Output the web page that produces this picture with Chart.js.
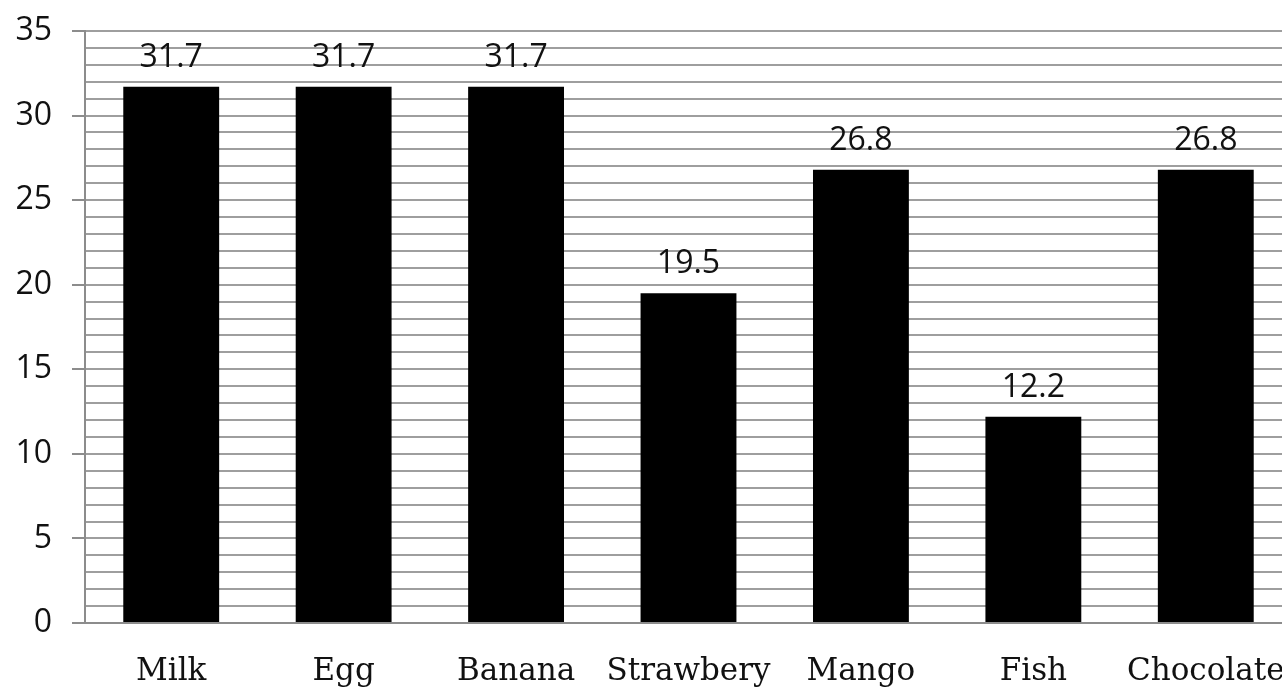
<!DOCTYPE html>
<html>
<head>
<meta charset="utf-8">
<script src="https://cdn.jsdelivr.net/npm/chart.js@4/dist/chart.umd.min.js"></script>
<style>
  html, body { margin: 0; padding: 0; background: #fff; overflow: hidden; }
  #wrap { position: relative; width: 1292px; height: 687px; }
</style>
</head>
<body>
<div id="wrap"><canvas id="chart" width="1292" height="687"></canvas></div>
<script>
// Values per food item
const categories = ['Milk', 'Egg', 'Banana', 'Strawbery', 'Mango', 'Fish', 'Chocolate'];
const values = [31.7, 31.7, 31.7, 19.5, 26.8, 12.2, 26.8];
const yMin = 0;
const yMax = 35;
const yMajorStep = 5;

// Draws the value above each bar
const valueLabels = {
  id: 'valueLabels',
  afterDatasetsDraw(chart) {
    const ctx = chart.ctx;
    const meta = chart.getDatasetMeta(0);
    ctx.save();
    ctx.font = '32px "Open Sans"';
    ctx.fillStyle = '#111';
    ctx.textAlign = 'center';
    ctx.textBaseline = 'alphabetic';
    meta.data.forEach((bar, i) => {
      ctx.fillText(String(values[i]), bar.x, bar.y - 20);
    });
    ctx.restore();
  }
};

new Chart(document.getElementById('chart'), {
  type: 'bar',
  data: {
    labels: categories,
    datasets: [{
      data: values,
      backgroundColor: '#000',
      borderWidth: 0,
      barPercentage: 1,
      categoryPercentage: 0.556
    }]
  },
  options: {
    responsive: false,
    animation: false,
    layout: { padding: { top: 31, right: 0, left: 0, bottom: 0 } },
    plugins: { legend: { display: false }, tooltip: { enabled: false } },
    scales: {
      x: {
        grid: { display: false, drawTicks: false },
        border: { display: true, color: '#8c8c8c', width: 2 },
        ticks: {
          color: '#111',
          padding: 30,
          maxRotation: 0,
          autoSkip: false,
          font: { family: '"DejaVu Serif"', size: 31 }
        },
        afterFit(scale) {
          scale.height = 64;
          scale.paddingLeft = 0;
          scale.paddingRight = 0;
        }
      },
      y: {
        min: yMin,
        max: yMax,
        grid: {
          color: '#9e9e9e',
          lineWidth: 2,
          tickLength: 13,
          tickColor: (c) => (c.tick && c.tick.value % yMajorStep === 0) ? '#8c8c8c' : 'rgba(0,0,0,0)'
        },
        border: { display: true, color: '#8c8c8c', width: 2 },
        ticks: {
          stepSize: 1,
          autoSkip: false,
          color: '#111',
          padding: 20,
          font: { family: '"Open Sans"', size: 32 },
          callback: (v) => (v % yMajorStep === 0 ? String(v) : '')
        },
        afterFit(scale) {
          scale.width = 85;
          scale.paddingTop = 0;
          scale.paddingBottom = 0;
        }
      }
    }
  },
  plugins: [valueLabels]
});
</script>
</body>
</html>
